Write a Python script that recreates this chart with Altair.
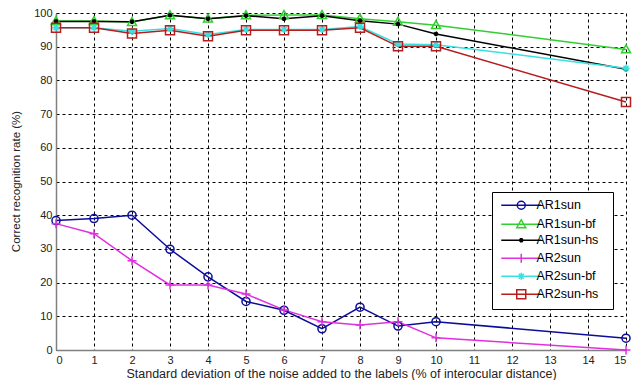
import altair as alt
import pandas as pd

x_vals = [0, 1, 2, 3, 4, 5, 6, 7, 8, 9, 10, 15]
series_names = ["AR1sun", "AR1sun-bf", "AR1sun-hs", "AR2sun", "AR2sun-bf", "AR2sun-hs"]
ar1sun = [38.4, 39.0, 40.0, 29.9, 21.7, 14.4, 11.8, 6.3, 12.7, 7.1, 8.4, 3.5]
ar1sun_bf = [97.6, 97.6, 97.3, 99.3, 98.3, 99.3, 99.4, 99.4, 98.3, 97.4, 96.4, 89.2]
ar1sun_hs = [97.5, 97.5, 97.4, 99.3, 98.3, 99.2, 98.3, 99.2, 97.7, 96.7, 93.8, 83.3]
ar2sun = [37.5, 34.5, 26.5, 19.3, 19.3, 16.6, 11.9, 8.4, 7.4, 8.4, 3.6, 0.0]
ar2sun_bf = [95.6, 95.6, 94.6, 95.4, 93.6, 95.1, 95.1, 95.1, 96.0, 90.8, 90.6, 83.6]
ar2sun_hs = [95.6, 95.6, 93.9, 94.9, 93.1, 94.9, 94.9, 94.9, 95.6, 90.1, 90.1, 73.6]
series_values = [ar1sun, ar1sun_bf, ar1sun_hs, ar2sun, ar2sun_bf, ar2sun_hs]
colors = ["#0c0c9c", "#30d030", "#000000", "#e030e0", "#38e0e0", "#b81c1c"]
x_ticks = list(range(0, 16))
y_ticks = [0, 10, 20, 30, 40, 50, 60, 70, 80, 90, 100]

# marker shapes (unit coordinates)
marker_paths = [
    "M-0.9,0A0.9,0.9 0 1,0 0.9,0A0.9,0.9 0 1,0 -0.9,0Z",
    "M0,-1L1,0.75L-1,0.75Z",
    "M-0.5,0L0.5,0M0,-0.5L0,0.5M-0.36,-0.36L0.36,0.36M-0.36,0.36L0.36,-0.36",
    "M-1,0L1,0M0,-1L0,1",
    "M-0.8,0L0.8,0M0,-0.8L0,0.8M-0.55,-0.55L0.55,0.55M-0.55,0.55L0.55,-0.55",
    "M-1,-1L1,-1L1,1L-1,1Z",
]
legend_paths = [
    "M-4,0L4,0M-0.8,0A0.8,0.8 0 1,0 0.8,0A0.8,0.8 0 1,0 -0.8,0Z",
    "M-4,0L4,0M0,-0.9L0.9,0.68L-0.9,0.68Z",
    "M-4,0L4,0M-0.45,0L0.45,0M0,-0.45L0,0.45M-0.32,-0.32L0.32,0.32M-0.32,0.32L0.32,-0.32",
    "M-4,0L4,0M0,-0.9L0,0.9",
    "M-4,0L4,0M0,-0.7L0,0.7M-0.5,-0.5L0.5,0.5M-0.5,0.5L0.5,-0.5",
    "M-4,0L4,0M-0.9,-0.9L0.9,-0.9L0.9,0.9L-0.9,0.9Z",
]

rows = []
for name, vals in zip(series_names, series_values):
    for xv, yv in zip(x_vals, vals):
        rows.append({"x": xv, "y": yv, "series": name})
df = pd.DataFrame(rows)

font = "Liberation Sans"

x_enc = alt.X(
    "x:Q",
    scale=alt.Scale(domain=[0, 15], nice=False, zero=False),
    axis=alt.Axis(
        values=x_ticks, format="d", grid=True, ticks=False, labelOverlap=False,
        gridDash=[3, 3], gridColor="#000000", gridOpacity=1, gridWidth=1,
        title="Standard deviation of the noise added to the labels (% of interocular distance)",
        titleFontSize=12.5,
        labelPadding=4, titleX=285, titleY=23, titleBaseline="middle", titleAlign="center",
    ),
)
y_enc = alt.Y(
    "y:Q",
    scale=alt.Scale(domain=[0, 100], nice=False),
    axis=alt.Axis(
        values=y_ticks, format="d", grid=True, ticks=False, labelOverlap=False,
        gridDash=[3, 3], gridColor="#000000", gridOpacity=1, gridWidth=1,
        title="Correct recognition rate (%)", titleFontSize=11.5,
        labelPadding=4, titleX=-40, titleY=168, titleAngle=270,
        titleBaseline="middle", titleAlign="center",
    ),
)

color_scale = alt.Scale(domain=series_names, range=colors)

base = alt.Chart(df).encode(x=x_enc, y=y_enc)

lines = base.mark_line(strokeWidth=1.5).encode(
    color=alt.Color("series:N", scale=color_scale, legend=None),
)
points = base.mark_point(filled=False, size=81, strokeWidth=1.5, opacity=1).encode(
    color=alt.Color("series:N", scale=color_scale, legend=None),
    shape=alt.Shape("series:N", scale=alt.Scale(domain=series_names, range=marker_paths), legend=None),
)
# trailing non-breaking spaces (kept by a zero-width char) widen the legend box like MATLAB's
pad_expr = "datum.label + '" + "\u00a0" * 2 + "\u200b'"
legend_layer = base.transform_filter("datum.x < -1000").mark_point(
    filled=False, size=100, strokeWidth=1.5, opacity=1
).encode(
    color=alt.Color("series:N", scale=color_scale,
                    legend=alt.Legend(title=None, labelExpr=pad_expr)),
    shape=alt.Shape("series:N", scale=alt.Scale(domain=series_names, range=legend_paths),
                    legend=alt.Legend(title=None, labelExpr=pad_expr)),
)

chart = alt.layer(lines, points, legend_layer).resolve_scale(
    color="independent", shape="independent"
).properties(
    width=570, height=337,
    autosize=alt.AutoSizeParams(type="none"),
    padding={"left": 48, "top": 5, "right": 8, "bottom": 30},
).configure_view(stroke=None).configure_axis(
    labelFont=font, titleFont=font, labelFontSize=11, titleFontSize=11,
    labelColor="#222222", titleColor="#222222", titleFontWeight="normal",
    domainColor="#808080", domainWidth=1.5,
).configure_legend(
    orient="none", legendX=436, legendY=179,
    strokeColor="#000000", fillColor="#ffffff", padding=7,
    labelFont=font, labelFontSize=12.5, labelColor="#000000",
    symbolStrokeWidth=1.5, symbolOffset=16, labelOffset=9, rowPadding=3,
    symbolSize=100, labelLimit=300,
)

chart.save("out.html", embed_options={"renderer": "svg", "actions": False})
